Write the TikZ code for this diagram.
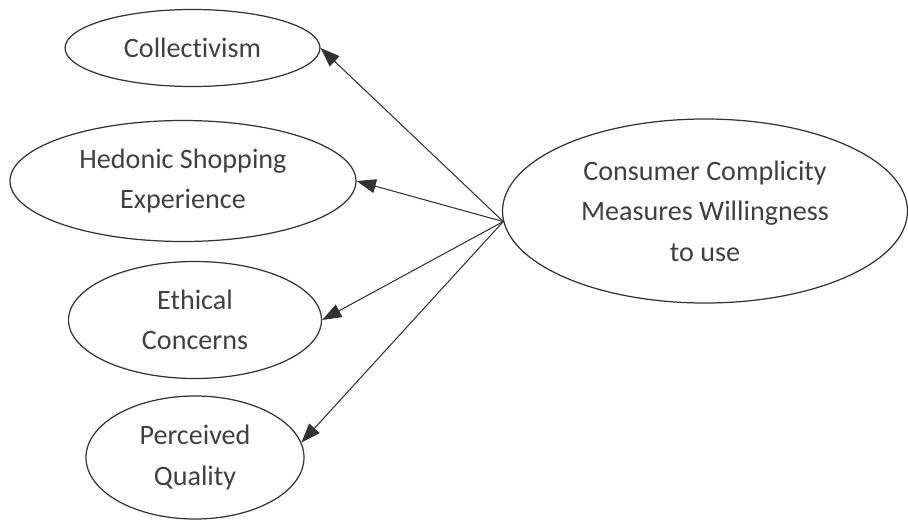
\documentclass[tikz,border=0pt]{standalone}
\usepackage{fontspec}
\usepackage{xcolor}
\setmainfont[Ligatures=CommonOff]{Carlito}
\usetikzlibrary{shapes.geometric,arrows.meta}
\definecolor{inkgray}{HTML}{404040}
\definecolor{linegray}{HTML}{333333}
\tikzstyle{construct}=[draw=linegray, shape=ellipse, line width=0.7pt, fill=white, inner sep=0pt, align=center, text=inkgray, font=\fontsize{16}{23}\selectfont]
\tikzstyle{edge}=[draw=linegray, line width=0.6pt, -{Triangle[length=11pt,width=8pt]}]

\begin{document}
\begin{tikzpicture}
            \useasboundingbox (0,0) rectangle (18.16,-10.42);
            \node[construct, minimum width=5.1cm, minimum height=1.54cm] (col) at (3.85,-0.96) {Collectivism};
            \node[construct, minimum width=6.92cm, minimum height=2.42cm] (hed) at (3.66,-3.62) {Hedonic Shopping\\Experience};
            \node[construct, minimum width=5.06cm, minimum height=2.34cm] (eth) at (3.9,-6.4) {Ethical\\Concerns};
            \node[construct, minimum width=4.36cm, minimum height=2.46cm] (per) at (3.9,-9.15) {Perceived\\Quality};
            \node[construct, minimum width=8.1cm, minimum height=3.68cm] (ccm) at (14.1,-4.22) {Consumer Complicity\\Measures Willingness\\to use};
            \draw[edge] (ccm.183) -- (col.east);
            \draw[edge] (ccm.183) -- (hed.east);
            \draw[edge] (ccm.183) -- (eth.east);
            \draw[edge] (ccm.183) -- (per.8);
	    \end{tikzpicture}
\end{document}
